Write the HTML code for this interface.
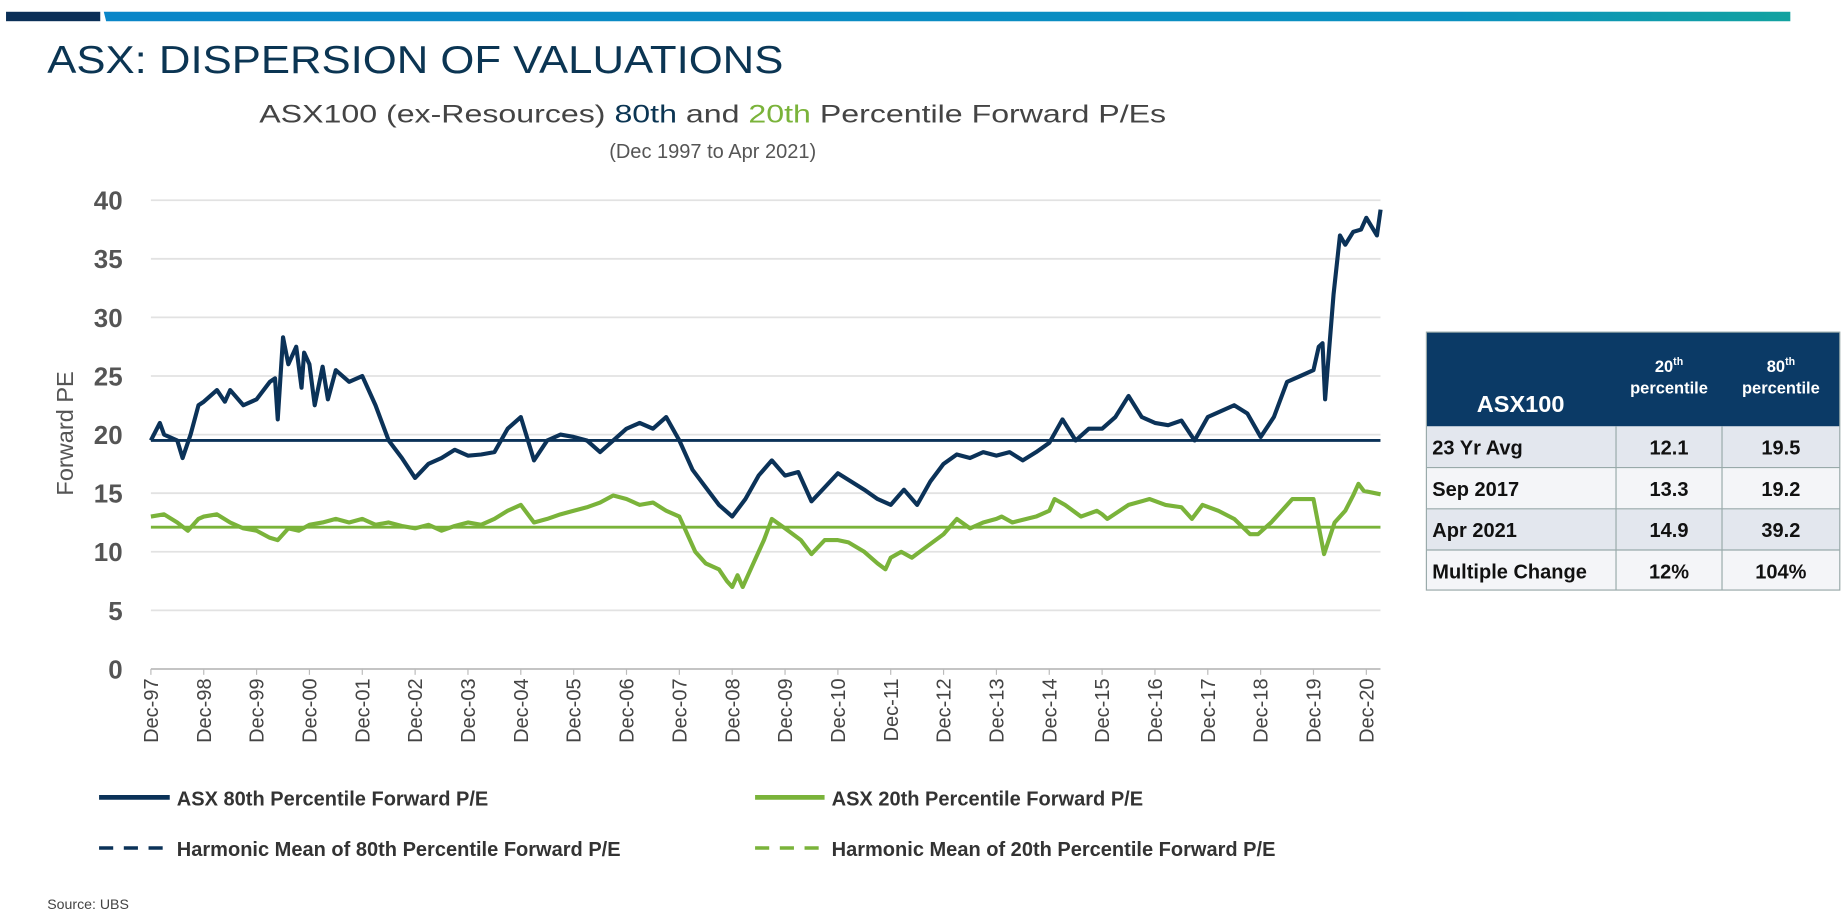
<!DOCTYPE html>
<html><head><meta charset="utf-8"><style>
html,body{margin:0;padding:0;background:#fff;}
svg{display:block;font-family:"Liberation Sans",Arial,sans-serif;}
</style></head><body>
<svg id="c" width="1847" height="921" viewBox="0 0 1568 782">
<defs><linearGradient id="g" x1="0" x2="1"><stop offset="0" stop-color="#0a86c8"/><stop offset="0.8" stop-color="#0a90c0"/><stop offset="1" stop-color="#12a2a0"/></linearGradient></defs>
<rect x="5" y="10" width="80" height="8" fill="#0b2f57"/>
<polygon points="88,10 1520,10 1520,18 90,18" fill="url(#g)"/>
<text x="40" y="62" font-size="33" fill="#0b3553" textLength="625" lengthAdjust="spacingAndGlyphs">ASX: DISPERSION OF VALUATIONS</text>
<text x="605" y="104" font-size="21" fill="#444" text-anchor="middle" textLength="770" lengthAdjust="spacingAndGlyphs">ASX100 (ex-Resources) <tspan fill="#0b3553">80th</tspan> and <tspan fill="#7ab33a">20th</tspan> Percentile Forward P/Es</text>
<text x="605" y="134" font-size="17" fill="#555" text-anchor="middle">(Dec 1997 to Apr 2021)</text>
<text transform="translate(62,368) rotate(-90)" font-size="20" fill="#555" text-anchor="middle">Forward PE</text>
<g id="grid"></g><g id="yt"></g><g id="xt"></g><g id="series"></g>
<g>
<line x1="84" y1="677" x2="144" y2="677" stroke="#0b3258" stroke-width="4"/>
<text x="150" y="684" font-size="17" font-weight="bold" fill="#333">ASX 80th Percentile Forward P/E</text>
<line x1="641" y1="677" x2="700" y2="677" stroke="#7ab33a" stroke-width="4"/>
<text x="706" y="684" font-size="17" font-weight="bold" fill="#333">ASX 20th Percentile Forward P/E</text>
<line x1="84" y1="720" x2="144" y2="720" stroke="#0b3258" stroke-width="3" stroke-dasharray="12,9"/>
<text x="150" y="727" font-size="17" font-weight="bold" fill="#333">Harmonic Mean of 80th Percentile Forward P/E</text>
<line x1="641" y1="720" x2="700" y2="720" stroke="#7ab33a" stroke-width="3" stroke-dasharray="12,9"/>
<text x="706" y="727" font-size="17" font-weight="bold" fill="#333">Harmonic Mean of 20th Percentile Forward P/E</text>
</g>
<text x="40" y="772" font-size="12" fill="#444">Source: UBS</text>
<g font-weight="bold">
<rect x="1211" y="282" width="351" height="80" fill="#0b3a66"/>
<text x="1291" y="350" font-size="20" fill="#fff" text-anchor="middle">ASX100</text>
<text x="1417" y="316" font-size="14" fill="#fff" text-anchor="middle">20<tspan font-size="9" dy="-6">th</tspan><tspan x="1417" dy="24">percentile</tspan></text>
<text x="1512" y="316" font-size="14" fill="#fff" text-anchor="middle">80<tspan font-size="9" dy="-6">th</tspan><tspan x="1512" dy="24">percentile</tspan></text>
<rect x="1211" y="362" width="351" height="35" fill="#e3e7ee"/>
<rect x="1211" y="397" width="351" height="35" fill="#f4f5f8"/>
<rect x="1211" y="432" width="351" height="35" fill="#e3e7ee"/>
<rect x="1211" y="467" width="351" height="34" fill="#f4f5f8"/>
<g stroke="#9aa" stroke-width="1" fill="none"><rect x="1211" y="282" width="351" height="219"/><line x1="1211" y1="397" x2="1562" y2="397"/><line x1="1211" y1="432" x2="1562" y2="432"/><line x1="1211" y1="467" x2="1562" y2="467"/><line x1="1372" y1="362" x2="1372" y2="501"/><line x1="1462" y1="362" x2="1462" y2="501"/></g>
<g font-size="17" fill="#111">
<text x="1216" y="386">23 Yr Avg</text><text x="1417" y="386" text-anchor="middle">12.1</text><text x="1512" y="386" text-anchor="middle">19.5</text>
<text x="1216" y="421">Sep 2017</text><text x="1417" y="421" text-anchor="middle">13.3</text><text x="1512" y="421" text-anchor="middle">19.2</text>
<text x="1216" y="456">Apr 2021</text><text x="1417" y="456" text-anchor="middle">14.9</text><text x="1512" y="456" text-anchor="middle">39.2</text>
<text x="1216" y="491">Multiple Change</text><text x="1417" y="491" text-anchor="middle">12%</text><text x="1512" y="491" text-anchor="middle">104%</text>
</g></g>
</svg>
<script>
// dates are years since Dec-1997
const dates80 = [
 0,0.17,0.25,0.5,0.6,0.75,0.9,
 1,1.25,1.4,1.5,1.75,
 2,2.25,2.35,2.4,2.5,2.6,2.75,2.85,2.9,
 3,3.1,3.25,3.35,3.5,3.75,
 4,4.25,4.5,4.75, 5,5.25,5.5,5.75, 6,6.25,6.5,6.75, 7,7.25,7.5,7.75,
 8,8.25,8.5,8.75, 9,9.25,9.5,9.75, 10,10.25,10.5,10.75, 11,11.25,11.5,11.75,
 12,12.25,12.5,12.75, 13,13.25,13.5,13.75, 14,14.25,14.5,14.75, 15,15.25,15.5,15.75,
 16,16.25,16.5,16.75, 17,17.25,17.5,17.75, 18,18.25,18.5,18.75, 19,19.25,19.5,19.75,
 20,20.25,20.5,20.75, 21,21.25,21.5,21.75,
 22,22.1,22.17,22.22,22.38,22.5,22.6,22.75,22.9,
 23,23.2,23.27];
const p80 = [
 19.5,21,20,19.5,18,20,22.5,
 22.8,23.8,22.8,23.8,22.5,
 23,24.5,24.8,21.3,28.3,26,27.5,24,27,
 26,22.5,25.8,23,25.5,24.5,
 25,22.5,19.5,18, 16.3,17.5,18,18.7, 18.2,18.3,18.5,20.5, 21.5,17.8,19.5,20,
 19.8,19.5,18.5,19.5, 20.5,21,20.5,21.5, 19.5,17,15.5,14, 13,14.5,16.5,17.8,
 16.5,16.8,14.3,15.5, 16.7,16,15.3,14.5, 14,15.3,14,16, 17.5,18.3,18,18.5,
 18.2,18.5,17.8,18.5, 19.3,21.3,19.5,20.5, 20.5,21.5,23.3,21.5, 21,20.8,21.2,19.5,
 21.5,22,22.5,21.8, 19.8,21.5,24.5,25,
 25.5,27.5,27.8,23,32,37,36.2,37.3,37.5,
 38.5,37,39.2];
const dates20 = [
 0,0.25,0.5,0.7,0.9,
 1,1.25,1.5,1.75,
 2,2.25,2.4,2.6,2.8,
 3,3.25,3.5,3.75,
 4,4.25,4.5,4.75,
 5,5.25,5.5,5.75,
 6,6.25,6.5,6.75,
 7,7.25,7.5,7.75,
 8,8.25,8.5,8.75,
 9,9.25,9.5,9.75,
 10,10.3,10.5,10.75,10.9,
 11,11.1,11.2,11.4,11.6,11.75,
 12,12.3,12.5,12.75,
 13,13.2,13.5,13.75,13.9,
 14,14.2,14.4,14.7,
 15,15.25,15.5,15.75,
 16,16.1,16.3,16.75,
 17,17.1,17.3,17.6,17.9,
 18,18.1,18.5,18.9,
 19.2,19.5,19.7,19.9,
 20.2,20.5,20.8,20.95,
 21.2,21.4,21.6,21.85,
 22,22.2,22.4,22.6,22.75,22.85,22.95,
 23.27];
const p20 = [
 13,13.2,12.5,11.8,12.8,
 13,13.2,12.5,12,
 11.8,11.2,11,12,11.8,
 12.3,12.5,12.8,12.5,
 12.8,12.3,12.5,12.2,
 12,12.3,11.8,12.2,
 12.5,12.3,12.8,13.5,
 14,12.5,12.8,13.2,
 13.5,13.8,14.2,14.8,
 14.5,14,14.2,13.5,
 13,10,9,8.5,7.5,
 7,8,7,9,11,12.8,
 12,11,9.8,11,
 11,10.8,10,9,8.5,
 9.5,10,9.5,10.5,
 11.5,12.8,12,12.5,
 12.8,13,12.5,13,
 13.5,14.5,14,13,13.5,
 13.2,12.8,14,14.5,
 14,13.8,12.8,14,
 13.5,12.8,11.5,11.5,
 12.5,13.5,14.5,14.5,
 14.5,9.8,12.5,13.5,14.8,15.8,15.2,
 14.9];
const avg80 = 19.5, avg20 = 12.1;
const yTicks = [0,5,10,15,20,25,30,35,40];
const xLabels = ["Dec-97","Dec-98","Dec-99","Dec-00","Dec-01","Dec-02","Dec-03","Dec-04","Dec-05","Dec-06","Dec-07","Dec-08","Dec-09","Dec-10","Dec-11","Dec-12","Dec-13","Dec-14","Dec-15","Dec-16","Dec-17","Dec-18","Dec-19","Dec-20"];
const NS="http://www.w3.org/2000/svg";
const X0=128, XR=1172, PX=(1160-128)/23;
const xs = t => X0 + t*PX;
const ys = v => 568 - v*(398/40);
function mk(tag, attrs, parent){const e=document.createElementNS(NS,tag);for(const k in attrs)e.setAttribute(k,attrs[k]);parent.appendChild(e);return e;}
const grid=document.getElementById('grid'), yt=document.getElementById('yt'), xt=document.getElementById('xt'), ser=document.getElementById('series');
yTicks.forEach(v=>{
  const l=mk('line',{x1:X0,x2:XR,y1:ys(v),y2:ys(v),stroke:v===0?'#bbb':'#e2e2e2','stroke-width':1.5},grid);
  
  
  const t=mk('text',{x:104,y:ys(v)+8,'font-size':22,'font-weight':'bold',fill:'#555','text-anchor':'end'},yt);
  t.textContent=v;
  
  
});
xLabels.forEach((s,i)=>{
  const x=xs(i);
  mk('line',{x1:x,x2:x,y1:568,y2:573,stroke:'#bbb'},xt);
  const t=mk('text',{transform:`translate(${x+6},576) rotate(-90)`,'font-size':17,fill:'#444','text-anchor':'end'},xt);
  t.textContent=s;
  
  
});
const a20=mk('line',{x1:X0,x2:XR,y1:ys(avg20),y2:ys(avg20),stroke:'#7ab33a','stroke-width':2.5},ser);


const a80=mk('line',{x1:X0,x2:XR,y1:ys(avg80),y2:ys(avg80),stroke:'#0b3258','stroke-width':2.5},ser);


function path(ds,vals,col,name){
  const n=Math.min(ds.length,vals.length);
  let d='';
  for(let i=0;i<n;i++) d+=(i?'L':'M')+xs(ds[i]).toFixed(1)+','+ys(vals[i]).toFixed(1);
  const p=mk('path',{d:d,fill:'none',stroke:col,'stroke-width':3.5,'stroke-linejoin':'round'},ser);
  
  
}
path(dates20,p20,'#7ab33a','series-20th-line');
path(dates80,p80,'#0b3258','series-80th-line');
</script>
</body></html>
